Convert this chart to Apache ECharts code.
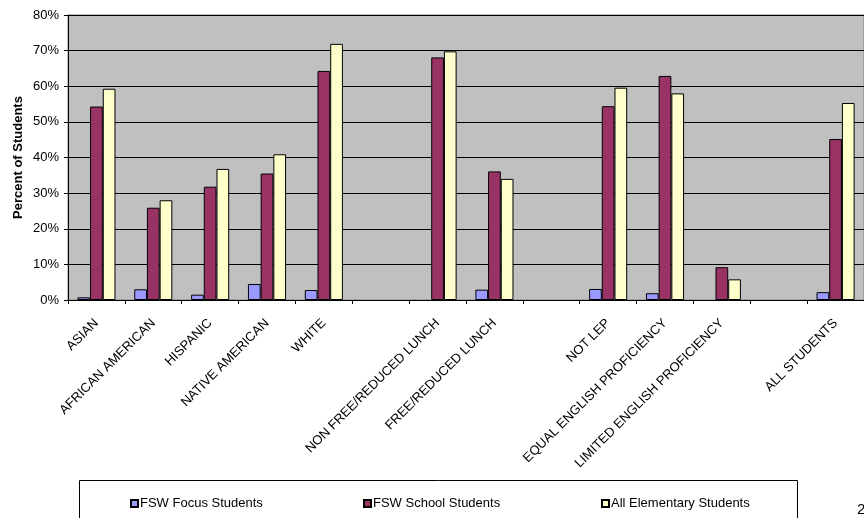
<!DOCTYPE html>
<html>
<head>
<meta charset="utf-8">
<script src="https://cdn.jsdelivr.net/npm/echarts@6/dist/echarts.min.js"></script>
<style>
html,body{margin:0;padding:0;background:#fff;}
#c{width:864px;height:518px;}
</style>
</head>
<body>
<div id="c"></div>
<script>
const categories = ['ASIAN','AFRICAN AMERICAN','HISPANIC','NATIVE AMERICAN','WHITE',' ','NON FREE/REDUCED LUNCH','FREE/REDUCED LUNCH','  ','NOT LEP','EQUAL ENGLISH PROFICIENCY','LIMITED ENGLISH PROFICIENCY','   ','ALL STUDENTS'];
const focusStudents = [0.75, 3.0, 1.5, 4.5, 2.8, null, null, 2.9, null, 3.1, 1.9, null, null, 2.2];
const schoolStudents = [54.3, 25.9, 31.8, 35.5, 64.3, null, 68.1, 36.1, null, 54.4, 62.9, 9.2, null, 45.2];
const elementaryStudents = [59.3, 28.0, 36.8, 40.9, 71.9, null, 69.8, 34.0, null, 59.6, 58.0, 5.8, null, 55.3];
const seriesNames = ['FSW Focus Students','FSW School Students','All Elementary Students'];
const yTicks = [0,10,20,30,40,50,60,70,80];

const colors = ['#9999FF','#993366','#FFFFCC'];
const font = 'Arial, "Liberation Sans", sans-serif';
const chart = echarts.init(document.getElementById('c'), null, {renderer:'canvas'});
const values = [focusStudents, schoolStudents, elementaryStudents];
const legendX = [130, 363, 601];
chart.setOption({
  animation: false,
  backgroundColor: '#ffffff',
  grid: {left:68, top:15, width:802, height:285, show:true, backgroundColor:'#C0C0C0', borderColor:'#808080', borderWidth:1},
  legend: seriesNames.map((n,i)=>({
    data:[n], left: legendX[i], top: 497, itemWidth:7, itemHeight:7, itemGap:2,
    icon:'rect', padding:0,
    textStyle:{fontFamily:font, fontSize:13, color:'#000', padding:[0,0,0,-3]},
    selectedMode:false
  })),
  graphic: [
    {type:'rect', shape:{x:79.5, y:480.5, width:718, height:60}, style:{fill:'none', stroke:'#000', lineWidth:1}, silent:true},
    {type:'text', left:857, top:502, style:{text:'2', font:'15px Arial, "Liberation Sans", sans-serif', fill:'#000'}, silent:true}
  ],
  xAxis: {
    type:'category', data:categories,
    axisLine:{lineStyle:{color:'#000', width:1}},
    axisTick:{show:true, length:4, lineStyle:{color:'#000'}},
    axisLabel:{rotate:45, fontFamily:font, fontSize:13, color:'#000', margin:21, interval:0},
    splitLine:{show:false}
  },
  yAxis: {
    type:'value', min:0, max:80, interval:10,
    name:'Percent of Students', nameLocation:'middle', nameGap:43, nameRotate:90,
    nameMoveOverlap:false,
    nameTextStyle:{fontFamily:font, fontSize:13, fontWeight:'bold', color:'#000'},
    axisLine:{show:true, lineStyle:{color:'#000'}},
    axisTick:{show:true, length:4, lineStyle:{color:'#000'}},
    axisLabel:{formatter: v => yTicks.includes(v) ? v + '%' : '', fontFamily:font, fontSize:13, color:'#000', margin:9},
    splitLine:{show:true, interval:(idx, v) => v !== 80, lineStyle:{color:'#000', width:1}}
  },
  series: seriesNames.map((n,i)=>({
    name:n, type:'bar', data: values[i],
    barGap:'0%', barCategoryGap:'33%',
    itemStyle:{color:colors[i], borderColor:'#000', borderWidth:1}
  }))
});
</script>
</body>
</html>
